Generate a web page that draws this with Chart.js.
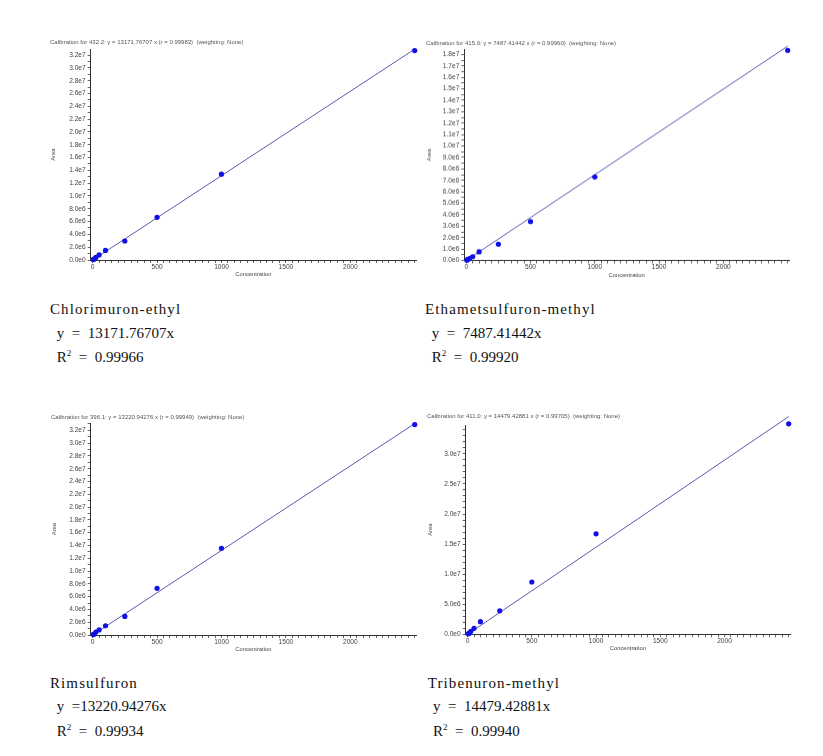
<!DOCTYPE html>
<html>
<head>
<meta charset="utf-8">
<script src="https://cdn.jsdelivr.net/npm/chart.js@4.4.1/dist/chart.umd.min.js"></script>
<style>
  body { margin: 0; background: #fff; width: 823px; height: 756px; position: relative; overflow: hidden; }
  .box { position: absolute; }
  .note { position: absolute; font-family: 'Liberation Serif', serif; font-size: 15px; line-height: 15px; color: #111; white-space: pre; }
  .note.name { letter-spacing: 1.1px; }
  .note sup { font-size: 9px; line-height: 0; vertical-align: 6px; }
</style>
</head>
<body>
<script>
// concentrations of the calibration standards (same for all four compounds)
const CONCENTRATION = [5, 10, 25, 50, 100, 250, 500, 1000, 2500];

const AREA_CHLORIMURON = [6.6e4, 1.3e5, 4.0e5, 8.0e5, 1.5e6, 2.97e6, 6.66e6, 1.34e7, 3.27e7];
const AREA_ETHAMETSULFURON = [3.0e4, 7.0e4, 1.6e5, 3.3e5, 7.5e5, 1.42e6, 3.4e6, 7.3e6, 1.835e7];
const AREA_RIMSULFURON = [6.0e4, 1.3e5, 4.5e5, 8.0e5, 1.45e6, 2.9e6, 7.3e6, 1.355e7, 3.29e7];
const AREA_TRIBENURON = [8.0e4, 1.5e5, 5.0e5, 1.0e6, 2.1e6, 3.9e6, 8.7e6, 1.67e7, 3.5e7];

const SLOPES = [13171.76707, 7487.41442, 13220.94276, 14479.42881];
const FIT_X = [0, 2500];

const COMPOUNDS = ['Chlorimuron-ethyl', 'Ethametsulfuron-methyl', 'Rimsulfuron', 'Tribenuron-methyl'];
const CAL_TITLES = [
    'Calibration for 432.2: y = 13171.76707 x (r = 0.99983)  (weighting: None)',
    'Calibration for 415.0: y = 7487.41442 x (r = 0.99960)  (weighting: None)',
    'Calibration for 396.1: y = 13220.94276 x (r = 0.99949)  (weighting: None)',
    'Calibration for 411.0: y = 14479.42881 x (r = 0.99705)  (weighting: None)'
];
const EQUATIONS = ['y  =  13171.76707x', 'y  =  7487.41442x', 'y  =13220.94276x', 'y  =  14479.42881x'];
const R_SQUARED = ['0.99966', '0.99920', '0.99934', '0.99940'];

const X_TICK_LABELS = [0, 500, 1000, 1500, 2000];
const X_MINOR_STEP = 50;
const Y_MAX = [3.29e7, 1.845e7, 3.31e7, 3.48e7];
const Y_LABEL_STEP = [2e6, 1e6, 2e6, 5e6];
const Y_MINOR_STEP = [1e6, 5e5, 1e6, 1e6];

const AREAS = [AREA_CHLORIMURON, AREA_ETHAMETSULFURON, AREA_RIMSULFURON, AREA_TRIBENURON];

// where each panel sits on the page
const LAYOUT = [
    { left: 50, top: 37, width: 370, height: 243, yw: 40.7, padRight: 4, titleBottom: 3.1, areaPad: 0, note: { x: 50, y: 302, ex: 56.7 } },
    { left: 426, top: 38, width: 368, height: 241.5, yw: 38.3, padRight: 5, titleBottom: 2.0, areaPad: 0, note: { x: 425, y: 302, ex: 431.7 } },
    { left: 51, top: 412, width: 369, height: 243, yw: 39.7, padRight: 4, titleBottom: 2.1, areaPad: 0, note: { x: 50, y: 675.5, ex: 56.7 } },
    { left: 427, top: 411, width: 367, height: 243.3, yw: 38.7, padRight: 4, titleBottom: 4.8, areaPad: 0, note: { x: 427.7, y: 675.5, ex: 433 } }
];

document.addEventListener('DOMContentLoaded', init);

function init() {
    COMPOUNDS.forEach((name, i) => {
        buildChart(i);
        addNotes(i);
    });
}

function formatExp(v) {
    return v.toExponential(1).replace('e+', 'e');
}

function isMultiple(v, step) {
    const r = v / step;
    return Math.abs(r - Math.round(r)) < 1e-6;
}

function buildChart(i) {
    const lay = LAYOUT[i];
    const box = document.createElement('div');
    box.className = 'box';
    box.style.left = lay.left + 'px';
    box.style.top = lay.top + 'px';
    box.style.width = lay.width + 'px';
    box.style.height = lay.height + 'px';
    const canvas = document.createElement('canvas');
    box.appendChild(canvas);
    document.body.appendChild(box);

    const points = CONCENTRATION.map((c, k) => ({ x: c, y: AREAS[i][k] }));
    const fitLine = FIT_X.map(x => ({ x: x, y: SLOPES[i] * x }));

    const tickFont = { family: 'Liberation Sans', size: 6.6 };
    const titleFont = { family: 'Liberation Sans', size: 5.8, lineHeight: 1.2 };

    new Chart(canvas, {
        type: 'scatter',
        data: {
            datasets: [{
                data: points,
                pointRadius: 2.6,
                pointBackgroundColor: '#0f0fe6',
                pointBorderColor: '#0f0fe6',
                pointBorderWidth: 0,
                clip: false,
                order: 0
            }, {
                data: fitLine,
                showLine: true,
                borderColor: '#5a5ab0',
                borderWidth: 1,
                pointRadius: 0,
                tension: 0,
                clip: false,
                order: 1
            }]
        },
        options: {
            responsive: true,
            maintainAspectRatio: false,
            animation: false,
            layout: { padding: { right: lay.padRight } },
            plugins: {
                legend: { display: false },
                tooltip: { enabled: false },
                title: {
                    display: true,
                    text: CAL_TITLES[i],
                    align: 'start',
                    color: '#555',
                    font: { family: 'Liberation Sans', size: 6, lineHeight: 1.2, weight: 'normal' },
                    padding: { top: 2, bottom: lay.titleBottom }
                }
            },
            scales: {
                x: {
                    type: 'linear',
                    min: -15,
                    max: 2510,
                    afterFit: scale => { scale.height = 20; },
                    afterBuildTicks: scale => {
                        const ticks = [];
                        for (let v = 0; v <= 2500; v += X_MINOR_STEP) ticks.push({ value: v });
                        scale.ticks = ticks;
                    },
                    ticks: {
                        autoSkip: false,
                        maxRotation: 0,
                        padding: 0,
                        color: '#444',
                        font: tickFont,
                        callback: value => X_TICK_LABELS.includes(value) ? String(value) : ''
                    },
                    grid: { drawOnChartArea: false, tickLength: 3, color: '#666' },
                    border: { color: '#333', width: 1 },
                    title: {
                        display: true,
                        text: 'Concentration',
                        color: '#444',
                        font: titleFont,
                        padding: { top: 0, bottom: 2 }
                    }
                },
                y: {
                    type: 'linear',
                    min: 0,
                    max: Y_MAX[i],
                    afterFit: scale => { scale.width = lay.yw; },
                    afterBuildTicks: scale => {
                        const ticks = [];
                        for (let v = 0; v <= Y_MAX[i]; v += Y_MINOR_STEP[i]) ticks.push({ value: v });
                        scale.ticks = ticks;
                    },
                    ticks: {
                        autoSkip: false,
                        padding: 2,
                        color: '#444',
                        font: tickFont,
                        callback: value => isMultiple(value, Y_LABEL_STEP[i]) ? formatExp(value) : ''
                    },
                    grid: { drawOnChartArea: false, tickLength: 3, color: '#666' },
                    border: { color: '#333', width: 1 },
                    title: {
                        display: true,
                        text: 'Area',
                        color: '#444',
                        font: titleFont,
                        padding: { top: lay.areaPad, bottom: 0 }
                    }
                }
            }
        }
    });
}

function addNotes(i) {
    const n = LAYOUT[i].note;
    const name = document.createElement('div');
    name.className = 'note name';
    name.style.left = n.x + 'px';
    name.style.top = n.y + 'px';
    name.textContent = COMPOUNDS[i];
    document.body.appendChild(name);

    const eq = document.createElement('div');
    eq.className = 'note';
    eq.style.left = n.ex + 'px';
    eq.style.top = (n.y + 23.5) + 'px';
    eq.textContent = EQUATIONS[i];
    document.body.appendChild(eq);

    const r2 = document.createElement('div');
    r2.className = 'note';
    r2.style.left = n.ex + 'px';
    r2.style.top = (n.y + 48) + 'px';
    r2.innerHTML = 'R<sup>2</sup>  =  ' + R_SQUARED[i];
    document.body.appendChild(r2);
}
</script>
</body>
</html>
